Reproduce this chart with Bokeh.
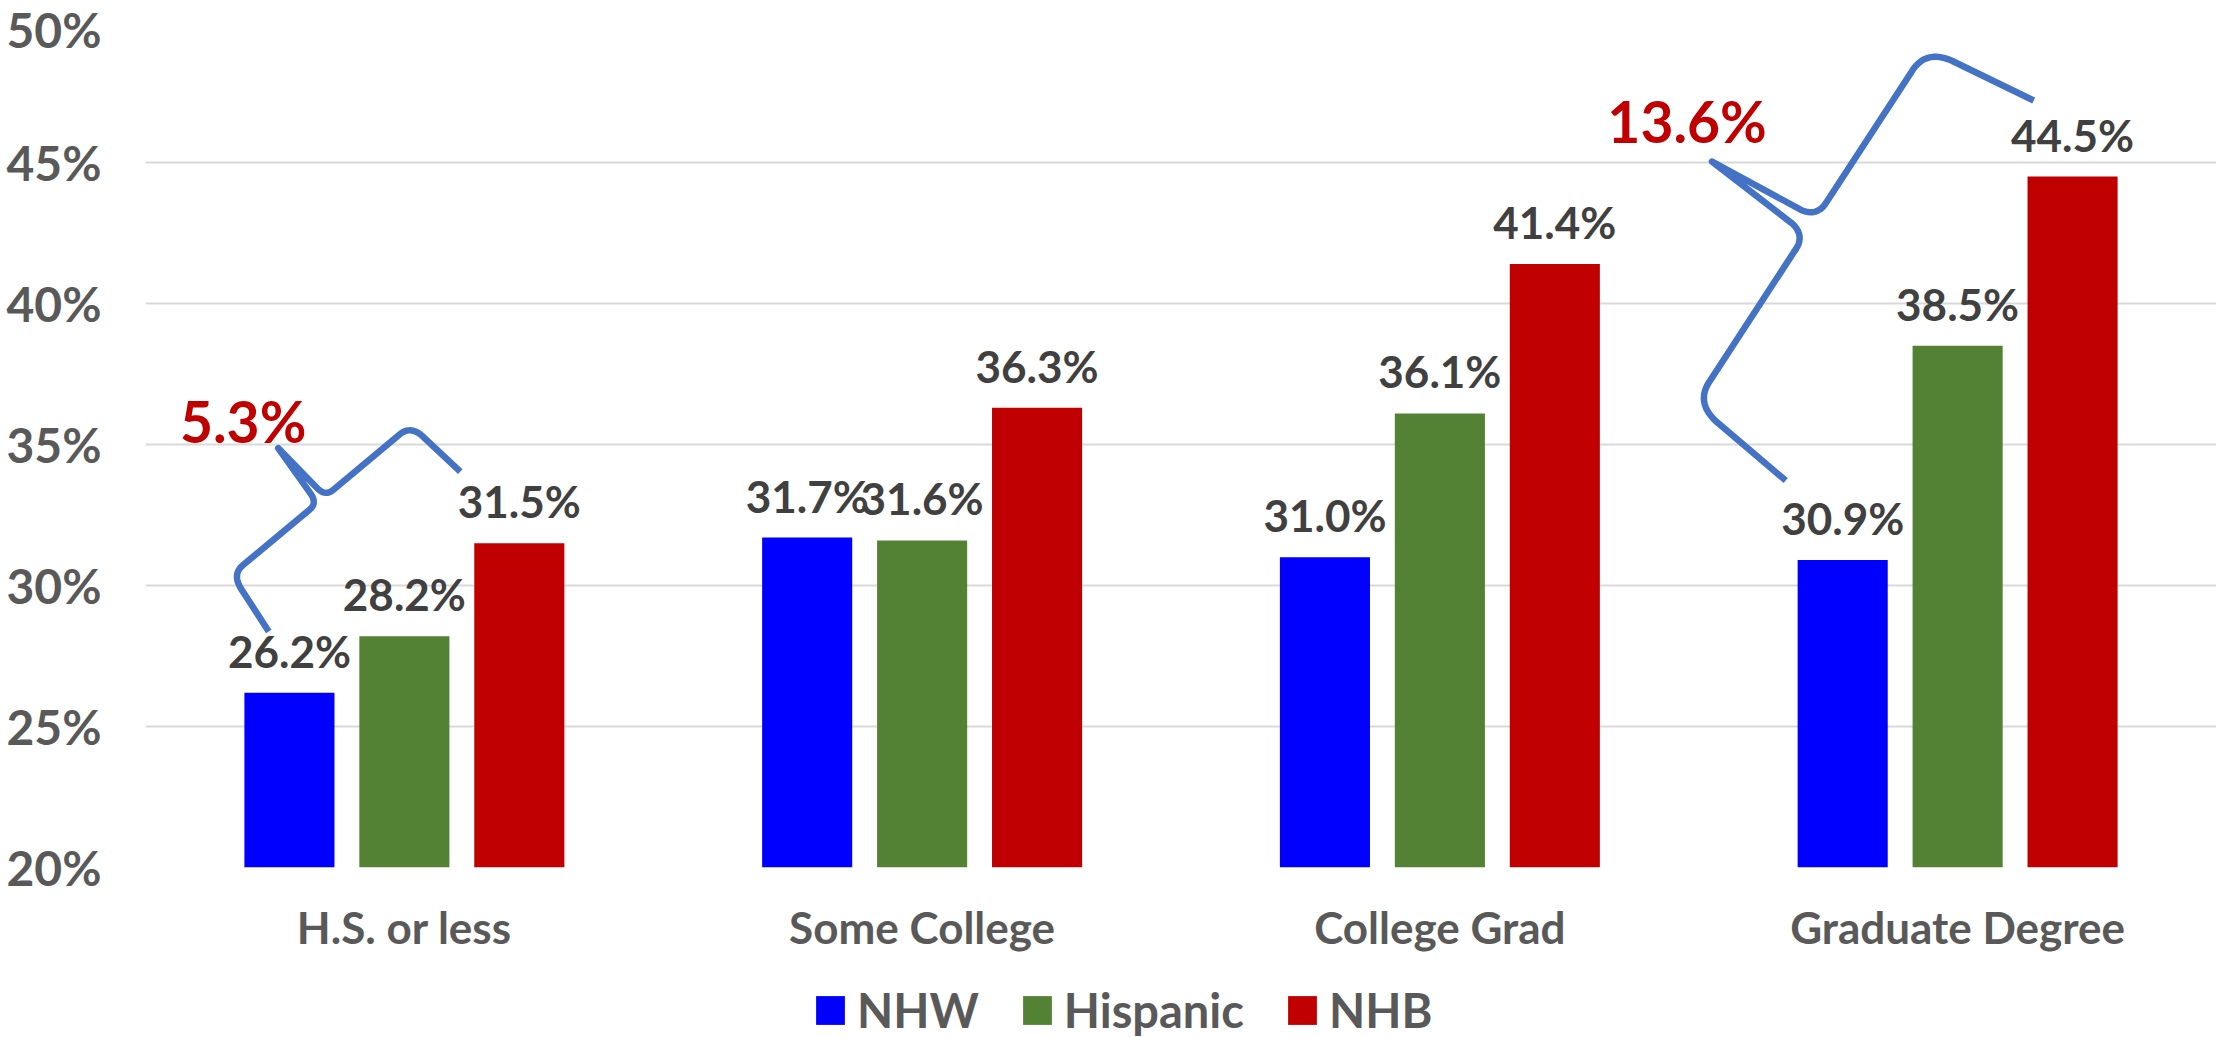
import numpy as np
from bokeh.plotting import figure
from bokeh.layouts import column
from bokeh.models import ColumnDataSource, FactorRange, Legend, LegendItem, FixedTicker, Range1d
from bokeh.transform import dodge
from bokeh.core.properties import value
from bokeh.embed import file_html
from bokeh.resources import INLINE

# ---------------- data ----------------
categories = ["H.S. or less", "Some College", "College Grad", "Graduate Degree"]
nhw = [26.2, 31.7, 31.0, 30.9]
hispanic = [28.2, 31.6, 36.1, 38.5]
nhb = [31.5, 36.3, 41.4, 44.5]
series_names = ["NHW", "Hispanic", "NHB"]
series_colors = ["#0000FF", "#548235", "#C00000"]
y_ticks = [20, 25, 30, 35, 40, 45, 50]
y_tick_labels = ["20%", "25%", "30%", "35%", "40%", "45%", "50%"]
gap_categories = ["H.S. or less", "Graduate Degree"]

# ---------------- layout ----------------
W = 2216
H_MAIN, H_LEG = 983, 54
BL, BR, BT, BB = 145, 0, 21, 116
frame_w = W - BL - BR
frame_h = H_MAIN - BT - BB
Y0, Y1 = 20, 50
px_x = frame_w / len(categories)
px_y = frame_h / (Y1 - Y0)

FONT = "Lato"
offsets = [-0.222, 0.0, 0.222]
bar_w = 0.174

# brace styling per annotated category:
# (low-end dx, low-end dy, high-end dx, high-end dy, depth ratio, label dx px, label dy px)
brace_style = {
    "H.S. or less": (-0.040, 2.17, -0.114, 2.54, 0.54, -35, -27),
    "Graduate Degree": (-0.110, 2.82, -0.075, 2.70, 0.52, -25, -41),
}

p = figure(x_range=FactorRange(factors=categories), y_range=(Y0, Y1),
           width=W, height=H_MAIN, output_backend="svg", toolbar_location=None,
           min_border_left=BL, min_border_right=BR, min_border_top=BT,
           min_border_bottom=BB)
p.outline_line_color = None
p.background_fill_color = "white"
p.border_fill_color = "white"

src = ColumnDataSource(dict(
    cat=categories,
    NHW=nhw, Hispanic=hispanic, NHB=nhb,
    NHW_lbl=["%.1f%%" % v for v in nhw],
    Hispanic_lbl=["%.1f%%" % v for v in hispanic],
    NHB_lbl=["%.1f%%" % v for v in nhb],
))

for name, col, off in zip(series_names, series_colors, offsets):
    p.vbar(x=dodge("cat", off, range=p.x_range), top=name, bottom=Y0,
           width=bar_w, source=src, fill_color=col, line_color=None)
    p.text(x=dodge("cat", off, range=p.x_range), y=name, text=name + "_lbl",
           source=src, text_align="center", text_baseline="alphabetic",
           y_offset=-42, text_font=value(FONT), text_font_style="bold",
           text_font_size=value("44px"), text_color="#404040")

# ---------------- braces ----------------
def quad(a, c, b, n=14):
    t = np.linspace(0, 1, n)[:, None]
    a, c, b = np.array(a), np.array(c), np.array(b)
    return (1 - t) ** 2 * a + 2 * (1 - t) * t * c + t ** 2 * b

half = np.vstack([
    np.array([[0.0, 0.0], [0.025, 0.38]]),
    quad((0.025, 0.38), (0.035, 0.5), (0.09, 0.5)),
    np.array([[0.44, 0.5]]),
    quad((0.44, 0.5), (0.475, 0.5), (0.482, 0.57)),
    np.array([[0.5, 1.0]]),
])
other = half[::-1].copy()
other[:, 0] = 1 - other[:, 0]
local = np.vstack([half, other])

for cat in gap_categories:
    i = categories.index(cat)
    ldx, ldy, hdx, hdy, ratio, tdx, tdy = brace_style[cat]
    A = np.array([(i + 0.5 + offsets[0] + ldx) * px_x, (nhw[i] + ldy) * px_y])
    B = np.array([(i + 0.5 + offsets[2] + hdx) * px_x, (nhb[i] + hdy) * px_y])
    d = B - A
    L = np.hypot(*d)
    u = d / L
    n = np.array([-u[1], u[0]])
    depth = ratio * L
    pts = A + local[:, :1] * d + local[:, 1:2] * depth * n
    p.line(x=pts[:, 0] / px_x, y=pts[:, 1] / px_y, line_color="#4472C4",
           line_width=6.5, line_join="round", line_cap="butt")
    tip = A + 0.5 * d + depth * n
    p.text(x=[tip[0] / px_x], y=[tip[1] / px_y],
           text=["%.1f%%" % (nhb[i] - nhw[i])], text_align="center",
           text_baseline="alphabetic", x_offset=tdx, y_offset=tdy,
           text_font=value(FONT), text_font_style="bold",
           text_font_size=value("57px"), text_color="#C00000")

# ---------------- axes ----------------
p.xgrid.grid_line_color = None
p.ygrid.grid_line_color = "#D9D9D9"
p.ygrid.grid_line_width = 2
p.yaxis.ticker = FixedTicker(ticks=y_ticks)
p.yaxis.major_label_overrides = dict(zip(y_ticks, y_tick_labels))
for ax in (p.xaxis[0], p.yaxis[0]):
    ax.axis_line_color = None
    ax.major_tick_line_color = None
    ax.minor_tick_line_color = None
    ax.major_tick_out = 0
    ax.major_tick_in = 0
    ax.minor_tick_out = 0
    ax.major_label_text_font = FONT
    ax.major_label_text_font_style = "bold"
    ax.major_label_text_color = "#595959"
p.yaxis.major_label_text_font_size = "48px"
p.yaxis.major_label_standoff = 44
p.xaxis.major_label_text_font_size = "44px"
p.xaxis.major_label_standoff = 33

# ---------------- legend (strip below the chart) ----------------
lg = figure(width=W, height=H_LEG, x_range=Range1d(0, 1), y_range=Range1d(0, 1),
            x_axis_location=None, y_axis_location=None,
            output_backend="svg", toolbar_location=None,
            min_border_left=0, min_border_right=0, min_border_top=0, min_border_bottom=0)
lg.grid.visible = False
lg.outline_line_color = None
leg_renderers = [lg.vbar(x=[5], top=[5], bottom=[4], width=0.1, fill_color=c, line_color=None)
                 for c in series_colors]
legend = Legend(items=[LegendItem(label=nm, renderers=[r]) for nm, r in zip(series_names, leg_renderers)],
                orientation="horizontal", location="left",
                glyph_width=36, glyph_height=36, label_standoff=9, spacing=40,
                padding=0, margin=667, border_line_color=None,
                background_fill_alpha=0,
                label_text_font=FONT, label_text_font_style="bold",
                label_text_font_size="47px", label_text_color="#595959")
lg.add_layout(legend)

open("out.html", "w").write(file_html(column(p, lg, spacing=0), INLINE))
